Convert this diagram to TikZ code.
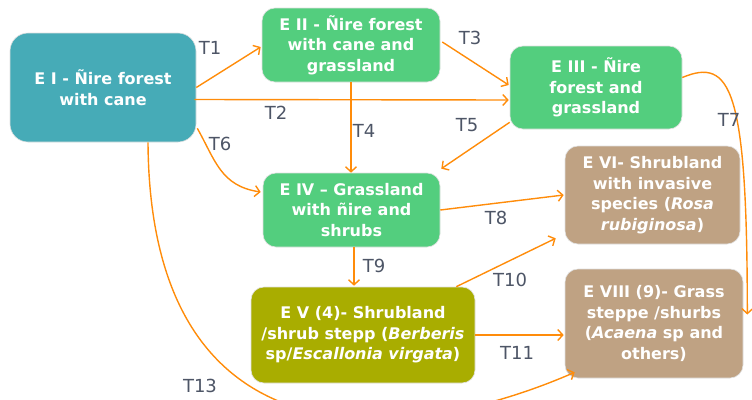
\documentclass[tikz,border=0pt]{standalone}
\usepackage{fontspec}
\setmainfont{DejaVu Sans}
\usetikzlibrary{arrows.meta}
\usetikzlibrary{calc}
\definecolor{tealbox}{HTML}{46ABB7}
\definecolor{greenbox}{HTML}{53CE7E}
\definecolor{brownbox}{HTML}{BFA283}
\definecolor{olivebox}{HTML}{A9AD00}
\definecolor{arrowor}{HTML}{FF8C0A}
\definecolor{labelgray}{HTML}{4D5566}
\tikzset{
  state/.style={rounded corners=13pt, draw=black!12, line width=0.6pt, text=white,
    font=\bfseries\fontsize{16}{20.5}\selectfont, align=center, inner sep=0pt},
  trans/.style={draw=arrowor, line width=1.4pt, -{Straight Barb[length=5pt,width=11pt]}},
  tlabel/.style={text=labelgray, font=\fontsize{18}{18}\selectfont, inner sep=0pt}
}

\begin{document}
\begin{tikzpicture}[x=1pt, y=-1pt]
            \useasboundingbox (0,0) rectangle (752,399);
            \node[state, fill=tealbox, rounded corners=18pt, minimum width=186pt, minimum height=109pt] (EI) at (103,87.5) {E I - Ñire forest\\with cane};
            \node[state, fill=greenbox, minimum width=178pt, minimum height=74pt] (EII) at (351,45) {E II - Ñire forest\\with cane and\\grassland};
            \node[state, fill=greenbox, minimum width=172pt, minimum height=83pt] (EIII) at (596,87.5) {E III - Ñire\\forest and\\grassland};
            \node[state, fill=greenbox, minimum width=177pt, minimum height=74pt] (EIV) at (351.5,210) {E IV – Grassland\\with ñire and\\shrubs};
            \node[state, fill=brownbox, minimum width=175pt, minimum height=98pt] (EVI) at (652.5,195) {E VI- Shrubland\\with invasive\\species (\textit{Rosa}\\\textit{rubiginosa})};
            \node[state, fill=olivebox, minimum width=224pt, minimum height=96pt] (EV) at (363,335) {E V (4)- Shrubland\\/shrub stepp (\textit{Berberis}\\sp/\textit{Escallonia virgata})};
            \node[state, fill=brownbox, minimum width=178pt, minimum height=109pt] (EVIII) at (654,323.5) {E VIII (9)- Grass\\steppe /shurbs\\(\textit{Acaena} sp and\\others)};
            \draw[trans] (EI.east) -- ($(EII.west)+(-1,2)$);
            \draw[trans] ($(EI.east)+(-2,12)$) -- ($(EIII.west)+(-1,12.5)$);
            \draw[trans] ($(EII.east)+(2,-3)$) -- ($(EIII.west)+(-1,-2.5)$);
            \draw[trans] (EII.south) -- (EII.south |- EIV.north);
            \draw[trans] ($(EIII.south west)+(0,-7)$) -- ($(EIV.north east)+(1,-4)$);
            \draw[trans] ($(EI.south east)+(1,-14)$) .. controls +(18,32) and +(-40,-6) .. ($(EIV.west)+(-2,-18)$);
            \draw[trans] ($(EIII.east)+(0,-10)$) .. controls +(48,-20) and +(0,-228) .. ($(EVIII.east)+(4,-9)$);
            \draw[trans] (EIV.east) -- ($(EVI.west)+(-1,0)$);
            \draw[trans] ($(EIV.south)+(2.5,0)$) -- ($(EIV.south |- EV.north)+(2.5,-1)$);
            \draw[trans] ($(EV.north east)+(-19,0)$) -- ($(EVI.south west)+(-9,-6)$);
            \draw[trans] (EV.east) -- ($(EV.east -| EVIII.west)+(-1,0)$);
            \draw[trans] ($(EI.south)+(45,0)$) .. controls +(2,328) and +(-170,74) .. ($(EVIII.south west)+(10,-6)$);
            \node[tlabel] (t1) at (210,48) {T1};
            \node[tlabel] (t2) at (276,113) {T2};
            \node[tlabel] (t3) at (470,38) {T3};
            \node[tlabel] (t4) at (364,131) {T4};
            \node[tlabel] (t5) at (467,125) {T5};
            \node[tlabel] (t6) at (220,144) {T6};
            \node[tlabel] (t7) at (729,120) {T7};
            \node[tlabel] (t8) at (496,218) {T8};
            \node[tlabel] (t9) at (374,266) {T9};
            \node[tlabel] (t10) at (510,280) {T10};
            \node[tlabel] (t11) at (517,353) {T11};
            \node[tlabel] (t13) at (200,386) {T13};
\end{tikzpicture}
\end{document}
